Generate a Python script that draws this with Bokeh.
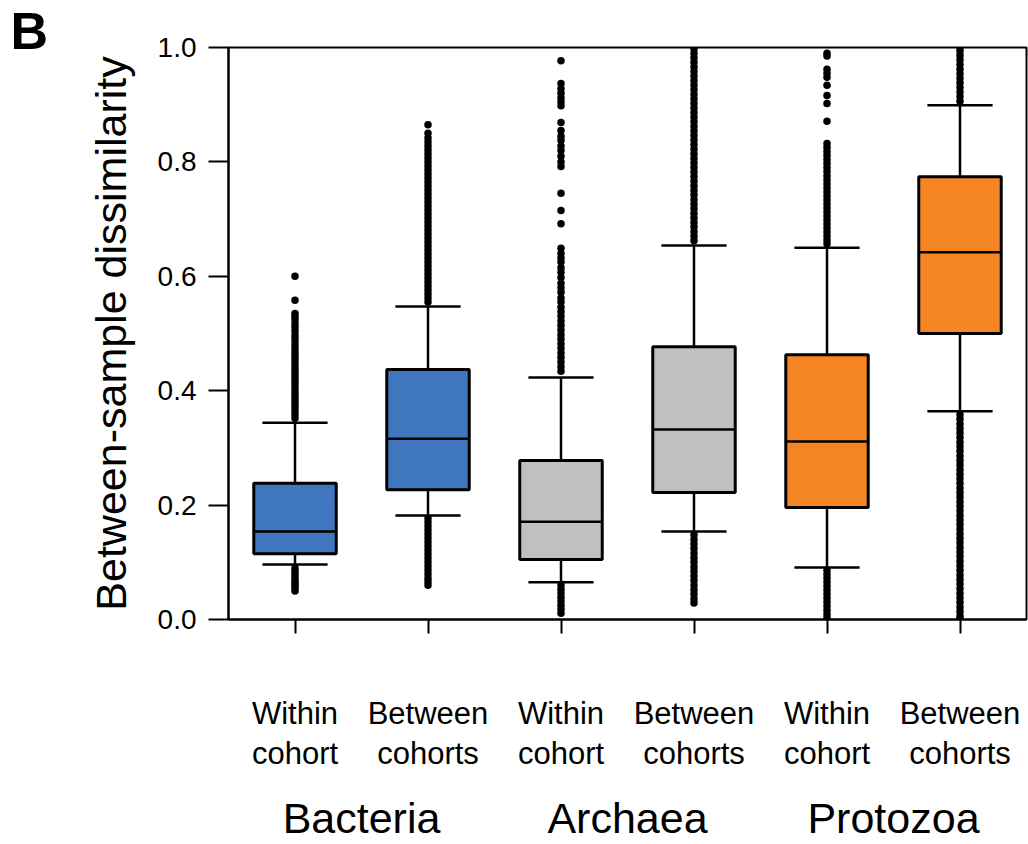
from bokeh.plotting import figure
from bokeh.models import LinearAxis, FixedTicker, Range1d, Title, PrintfTickFormatter
from bokeh.embed import file_html
from bokeh.resources import INLINE

FONT = "Liberation Sans"

# ---- data ----
categories = ["Within\ncohort", "Between\ncohorts", "Within\ncohort",
              "Between\ncohorts", "Within\ncohort", "Between\ncohorts"]
groups = ["Bacteria", "Archaea", "Protozoa"]
colors = ["#3F76BD", "#3F76BD", "#C0C0C0", "#C0C0C0", "#F58423", "#F58423"]

upper_whisker = [0.344, 0.547, 0.423, 0.654, 0.650, 0.899]
q3 = [0.238, 0.437, 0.278, 0.477, 0.463, 0.774]
median = [0.154, 0.316, 0.171, 0.332, 0.311, 0.642]
q1 = [0.115, 0.227, 0.105, 0.222, 0.196, 0.500]
lower_whisker = [0.096, 0.182, 0.065, 0.154, 0.091, 0.364]

out_bact_within = [0.600, 0.558, 0.535, 0.530, 0.525, 0.518, 0.512, 0.505, 0.498,
                   0.492, 0.485, 0.478, 0.472, 0.466, 0.460, 0.454, 0.448, 0.442,
                   0.436, 0.430, 0.424, 0.418, 0.412, 0.406, 0.400, 0.394, 0.388,
                   0.382, 0.376, 0.370, 0.364, 0.358, 0.352,
                   0.090, 0.085, 0.080, 0.075, 0.070, 0.066, 0.062, 0.058, 0.054, 0.050]
out_bact_between = [0.865, 0.850, 0.842, 0.835, 0.828, 0.821, 0.814, 0.807, 0.800,
                    0.793, 0.786, 0.779, 0.772, 0.765, 0.758, 0.751, 0.744, 0.737,
                    0.730, 0.723, 0.716, 0.709, 0.702, 0.695, 0.688, 0.681, 0.674,
                    0.667, 0.660, 0.653, 0.646, 0.639, 0.632, 0.625, 0.618, 0.611,
                    0.604, 0.597, 0.590, 0.583, 0.576, 0.569, 0.562, 0.555,
                    0.177, 0.170, 0.163, 0.156, 0.149, 0.142, 0.135, 0.128, 0.121,
                    0.114, 0.107, 0.100, 0.093, 0.086, 0.079, 0.072, 0.066, 0.060]
out_arch_within = [0.977, 0.937, 0.928, 0.920, 0.912, 0.905, 0.898, 0.869, 0.855,
                   0.845, 0.838, 0.828, 0.820, 0.810, 0.800, 0.792, 0.745, 0.715,
                   0.692, 0.649, 0.640, 0.632, 0.625, 0.615, 0.607, 0.598, 0.588,
                   0.580, 0.572, 0.562, 0.555, 0.546, 0.538, 0.530, 0.522, 0.514,
                   0.506, 0.498, 0.490, 0.482, 0.474, 0.466, 0.458, 0.450, 0.442,
                   0.434,
                   0.060, 0.053, 0.046, 0.039, 0.032, 0.025, 0.018, 0.011]
out_arch_between = [0.998, 0.990, 0.982, 0.974, 0.966, 0.958, 0.950, 0.942, 0.934,
                    0.926, 0.918, 0.910, 0.902, 0.894, 0.886, 0.878, 0.870, 0.862,
                    0.854, 0.846, 0.838, 0.830, 0.822, 0.814, 0.806, 0.798, 0.790,
                    0.782, 0.774, 0.766, 0.758, 0.750, 0.742, 0.734, 0.726, 0.718,
                    0.710, 0.702, 0.694, 0.686, 0.678, 0.670, 0.662,
                    0.148, 0.140, 0.132, 0.124, 0.116, 0.108, 0.100, 0.092, 0.084,
                    0.076, 0.068, 0.060, 0.052, 0.044, 0.036, 0.029]
out_prot_within = [0.990, 0.985, 0.962, 0.955, 0.948, 0.934, 0.916, 0.902, 0.871,
                   0.832, 0.825, 0.818, 0.811, 0.804, 0.797, 0.790, 0.783, 0.776,
                   0.769, 0.762, 0.755, 0.748, 0.741, 0.734, 0.727, 0.720, 0.713,
                   0.706, 0.699, 0.692, 0.685, 0.678, 0.671, 0.664, 0.657,
                   0.086, 0.079, 0.072, 0.065, 0.058, 0.051, 0.044, 0.037, 0.030,
                   0.023, 0.016, 0.009, 0.003]
out_prot_between = [1.000, 0.994, 0.986, 0.978, 0.970, 0.962, 0.954, 0.946, 0.938,
                    0.930, 0.922, 0.914, 0.906,
                    0.358, 0.350, 0.342, 0.334, 0.326, 0.318, 0.310, 0.302, 0.294,
                    0.286, 0.278, 0.270, 0.262, 0.254, 0.246, 0.238, 0.230, 0.222,
                    0.214, 0.206, 0.198, 0.190, 0.182, 0.174, 0.166, 0.158, 0.150,
                    0.142, 0.134, 0.126, 0.118, 0.110, 0.102, 0.094, 0.086, 0.078,
                    0.070, 0.062, 0.054, 0.046, 0.038, 0.030, 0.022, 0.014, 0.006,
                    0.001]
outliers = [out_bact_within, out_bact_between, out_arch_within,
            out_arch_between, out_prot_within, out_prot_between]

y_ticks = [0.0, 0.2, 0.4, 0.6, 0.8, 1.0]

# ---- figure ----
n = len(categories)
xs = [i + 0.5 for i in range(n)]

p = figure(width=1028, height=844, x_range=Range1d(0, n), y_range=Range1d(0, 1),
           output_backend="svg", toolbar_location=None,
           min_border_left=228, min_border_right=2, min_border_top=47,
           min_border_bottom=225)
p.grid.visible = False
p.outline_line_color = "black"
p.outline_line_width = 2
p.background_fill_color = "white"
p.border_fill_color = "white"

box_w = 0.62
cap_w = 0.49

# whiskers
p.segment(x0=xs, x1=xs, y0=q3, y1=upper_whisker, line_color="black", line_width=2.5)
p.segment(x0=xs, x1=xs, y0=q1, y1=lower_whisker, line_color="black", line_width=2.5)
p.segment(x0=[x - cap_w / 2 for x in xs], x1=[x + cap_w / 2 for x in xs],
          y0=upper_whisker, y1=upper_whisker, line_color="black", line_width=2.5)
p.segment(x0=[x - cap_w / 2 for x in xs], x1=[x + cap_w / 2 for x in xs],
          y0=lower_whisker, y1=lower_whisker, line_color="black", line_width=2.5)

# boxes
p.vbar(x=xs, width=box_w, top=q3, bottom=q1, fill_color=colors,
       line_color="black", line_width=3)
p.segment(x0=[x - box_w / 2 for x in xs], x1=[x + box_w / 2 for x in xs],
          y0=median, y1=median, line_color="black", line_width=2.5)

# outliers
for x, vals in zip(xs, outliers):
    p.scatter(x=[x] * len(vals), y=vals, size=7.5, marker="circle",
              fill_color="black", line_color="black", line_width=0)

# y axis
ya = p.yaxis[0]
ya.ticker = FixedTicker(ticks=y_ticks)
ya.formatter = PrintfTickFormatter(format="%.1f")
ya.minor_tick_line_color = None
ya.major_tick_in = 0
ya.major_tick_out = 20
ya.major_tick_line_width = 2
ya.axis_line_width = 2
ya.major_label_text_font = FONT
ya.major_label_text_font_size = "28px"
ya.major_label_text_color = "black"
ya.major_label_standoff = 12
ya.axis_label = "Between-sample dissimilarity"
ya.axis_label_text_font = FONT
ya.axis_label_text_font_size = "43px"
ya.axis_label_text_font_style = "normal"
ya.axis_label_text_color = "black"
ya.axis_label_standoff = 20

# x axis (subcategories)
xa = p.xaxis[0]
xa.ticker = FixedTicker(ticks=xs)
xa.major_label_overrides = {x: c for x, c in zip(xs, categories)}
xa.minor_tick_line_color = None
xa.major_tick_in = 0
xa.major_tick_out = 14
xa.major_tick_line_width = 2
xa.axis_line_width = 2
xa.major_label_text_font = FONT
xa.major_label_text_font_size = "31px"
xa.major_label_text_color = "black"
xa.major_label_text_line_height = 1.15
xa.major_label_standoff = 62

# group axis
gx = [1.0, 3.0, 5.0]
ga = LinearAxis(ticker=FixedTicker(ticks=gx),
                major_label_overrides={x: g for x, g in zip(gx, groups)})
ga.axis_line_color = None
ga.major_tick_line_color = None
ga.minor_tick_line_color = None
ga.major_tick_in = 0
ga.major_tick_out = 0
ga.major_label_text_font = FONT
ga.major_label_text_font_size = "43px"
ga.major_label_text_color = "black"
ga.major_label_standoff = 20
p.add_layout(ga, "below")

# panel letter
p.add_layout(Title(text="B", align="left", offset=-218, standoff=-25,
                   text_font=FONT, text_font_size="52px", text_font_style="bold",
                   text_color="black"), "above")

open("out.html", "w").write(file_html(p, INLINE))
